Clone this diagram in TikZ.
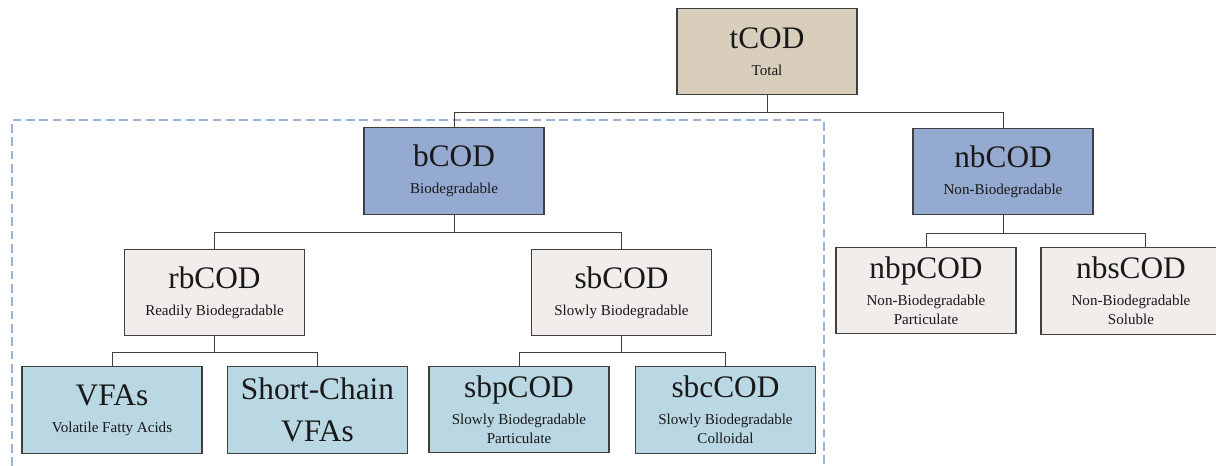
\documentclass[tikz,border=0pt]{standalone}
\usepackage{fontspec}
\setmainfont{Liberation Serif}
\usepackage{tikz}
\definecolor{TotalTan}{RGB}{216,206,187}
\definecolor{SplitBlue}{RGB}{149,170,208}
\definecolor{PartGrey}{RGB}{240,237,234}
\definecolor{LeafBlue}{RGB}{185,216,227}
\definecolor{GroupDash}{RGB}{155,178,218}
\definecolor{EdgeGrey}{RGB}{64,64,64}
\newcommand{\codname}[1]{{\fontsize{23.5}{27}\selectfont #1}}

\begin{document}
\begin{tikzpicture}[
  x=0.75pt, y=-0.75pt,
  cod/.style={
    rectangle,
    draw=EdgeGrey,
    line width=0.9pt,
    align=center,
    minimum width=135pt,
    minimum height=65pt,
    inner sep=0pt,
    text=black!90,
    font=\fontsize{11.3}{14.3}\selectfont
  },
  total/.style={cod, fill=TotalTan},
  split/.style={cod, fill=SplitBlue},
  part/.style={cod, fill=PartGrey},
  leaf/.style={cod, fill=LeafBlue},
  link/.style={draw=EdgeGrey, line width=0.75pt},
  group/.style={draw=GroupDash, line width=1.5pt, dash pattern=on 6.5pt off 3.5pt}
]
\useasboundingbox (0,0) rectangle (1216,466);

% biodegradable group
\draw[group] (12,466) -- (12,120) -- (824,120) -- (824,466);

\node[total] (tcod) at (767,51.5) {\codname{tCOD}\\[5.7pt]Total};
\node[split] (bcod) at (454,171) {\codname{bCOD}\\[5.7pt]Biodegradable};
\node[split] (nbcod) at (1003,171.5) {\codname{nbCOD}\\[5.7pt]Non-Biodegradable};
\node[part] (rbcod) at (214.5,292.5) {\codname{rbCOD}\\[5.7pt]Readily Biodegradable};
\node[part] (sbcod) at (621.5,292.5) {\codname{sbCOD}\\[5.7pt]Slowly Biodegradable};
\node[part] (nbpcod) at (926,290.5) {\codname{nbpCOD}\\[5.7pt]Non-Biodegradable\\Particulate};
\node[part] (nbscod) at (1131,291) {\codname{nbsCOD}\\[5.7pt]Non-Biodegradable\\Soluble};
\node[leaf] (vfas) at (112,410) {\codname{VFAs}\\[5.7pt]Volatile Fatty Acids};
\node[leaf] (scvfas) at (317.5,410) {\codname{Short-Chain}\\[14.7pt]\codname{VFAs}};
\node[leaf] (sbpcod) at (519,409.5) {\codname{sbpCOD}\\[5.7pt]Slowly Biodegradable\\Particulate};
\node[leaf] (sbccod) at (725.5,410) {\codname{sbcCOD}\\[5.7pt]Slowly Biodegradable\\Colloidal};

\draw[link] (tcod.south) -- ++(0,17) -| (bcod.north);
\draw[link] (tcod.south) -- ++(0,17) -| (nbcod.north);
\draw[link] (bcod.south) -- ++(0,18) -| (rbcod.north);
\draw[link] (bcod.south) -- ++(0,18) -| (sbcod.north);
\draw[link] (nbcod.south) -- ++(0,18) -| (nbpcod.north);
\draw[link] (nbcod.south) -- ++(0,18) -| ([xshift=10.5pt]nbscod.north);
\draw[link] (rbcod.south) -- ++(0,16) -| (vfas.north);
\draw[link] (rbcod.south) -- ++(0,16) -| (scvfas.north);
\draw[link] (sbcod.south) -- ++(0,16) -| (sbpcod.north);
\draw[link] (sbcod.south) -- ++(0,16) -| (sbccod.north);
\end{tikzpicture}
\end{document}
